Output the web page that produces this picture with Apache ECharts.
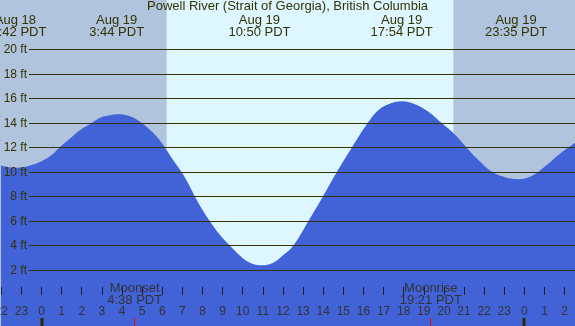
<!DOCTYPE html>
<html>
<head>
<meta charset="utf-8">
<script src="https://cdn.jsdelivr.net/npm/echarts@6/dist/echarts.min.js"></script>
<style>
  html, body { margin: 0; padding: 0; }
  #chart { width: 575px; height: 326px; }
</style>
</head>
<body>
<div id="chart"></div>
<script>
// hours counted from Aug 19 00:00 PDT, heights in ft
const tideHours = [-2.063, -1.317, -0.406, 0.422, 0.887, 1.417, 1.913, 2.494, 2.908, 3.405, 3.82, 4.234, 4.73, 5.39, 5.805, 6.138, 6.55, 6.97, 7.30, 7.63, 7.96, 8.37, 8.87, 9.37, 9.87, 10.36, 10.94, 11.52, 12.02, 12.51, 13.26, 13.98, 14.67, 15.42, 16.21, 16.74, 17.24, 17.90, 18.56, 19.23, 19.89, 20.57, 21.13, 21.71, 22.38, 23.04, 23.70, 24.36, 25.02, 25.69, 26.52, 26.7]
const tideFeet = [10.57, 10.36, 10.63, 11.31, 12.0, 12.74, 13.42, 14.0, 14.43, 14.64, 14.72, 14.64, 14.29, 13.45, 12.74, 12.0, 10.98, 10.0, 9.05, 8.0, 7.05, 6.0, 4.88, 4.0, 3.19, 2.62, 2.41, 2.62, 3.25, 4.0, 6.0, 8.0, 10.0, 12.0, 14.0, 15.05, 15.54, 15.78, 15.54, 14.92, 14.0, 13.03, 12.0, 11.0, 10.05, 9.59, 9.43, 9.70, 10.46, 11.40, 12.40, 12.6]

// high / low tide labels along the top
const eventHours = [-1.3, 3.733, 10.833, 17.9, 23.583]
const eventDays = ['Aug 18', 'Aug 19', 'Aug 19', 'Aug 19', 'Aug 19']
const eventTimes = ['22:42 PDT', '3:44 PDT', '10:50 PDT', '17:54 PDT', '23:35 PDT']

// daylight (sunrise, sunset)
const dayBand = [6.22, 20.47]

// moon events
const moonHours = [4.633, 19.35]
const moonNames = ['Moonset', 'Moonrise']
const moonTimes = ['4:38 PDT', '19:21 PDT']

const midnightHours = [0, 24]
const ftLevels = [2, 4, 6, 8, 10, 12, 14, 16, 18, 20]

const xMin = -2
const xMax = 26.515
const yMin = -2.53
const yMax = 24.03

const textColor = '#333300'
const fontFamily = '"Liberation Sans", Arial, sans-serif'

const chart = echarts.init(document.getElementById('chart'))

const option = {
  backgroundColor: '#b0c4de',
  animation: false,
  title: {
    text: 'Powell River (Strait of Georgia), British Columbia',
    left: 'center',
    top: 0,
    padding: 0,
    textStyle: { fontSize: 13, fontWeight: 'normal', color: textColor, fontFamily: fontFamily },
  },
  grid: { left: 1.26, right: 0, top: 0, bottom: 0, containLabel: false, outerBoundsMode: 'none' },
  xAxis: {
    type: 'value',
    min: xMin,
    max: xMax,
    interval: 1,
    z: 10,
    axisLine: { show: false },
    splitLine: { show: false },
    axisTick: { show: true, inside: true, length: 8, lineStyle: { color: '#222', width: 1 } },
    axisLabel: {
      inside: true,
      margin: 14,
      verticalAlign: 'middle',
      color: '#333',
      fontSize: 12,
      fontFamily: fontFamily,
      showMinLabel: true,
      showMaxLabel: false,
      hideOverlap: false,
      formatter: (v) => String(((v % 24) + 24) % 24),
    },
  },
  yAxis: {
    type: 'value',
    min: yMin,
    max: yMax,
    show: false,
  },
  series: [
    // daylight band
    {
      type: 'custom',
      z: 1,
      data: [dayBand],
      renderItem: (params, api) => {
        const p0 = api.coord([api.value(0), yMax])
        const p1 = api.coord([api.value(1), yMin])
        return {
          type: 'rect',
          shape: { x: p0[0], y: p0[1], width: p1[0] - p0[0], height: p1[1] - p0[1] },
          style: { fill: '#ddf6ff' },
        }
      },
    },
    // tide
    {
      type: 'line',
      z: 2,
      clip: false,
      smooth: 0.4,
      showSymbol: false,
      lineStyle: { width: 0 },
      areaStyle: { color: '#4262d8', opacity: 1, origin: 'start' },
      data: tideHours.map((h, i) => [h, tideFeet[i]]),
    },
    // horizontal ft lines with labels
    {
      type: 'custom',
      z: 3,
      data: ftLevels.map((v) => [xMin, v]),
      renderItem: (params, api) => {
        const y = Math.round(api.coord([xMin, api.value(1)])[1] - 0.5) + 0.5
        return {
          type: 'group',
          children: [
            {
              type: 'line',
              shape: { x1: 29, y1: y, x2: api.getWidth(), y2: y },
              style: { stroke: textColor, lineWidth: 1 },
            },
            {
              type: 'text',
              style: {
                text: api.value(1) + ' ft',
                x: 27, y: y,
                align: 'right', verticalAlign: 'middle',
                fill: textColor, font: '12px ' + fontFamily,
              },
            },
          ],
        }
      },
    },
    // high/low labels
    {
      type: 'custom',
      z: 4,
      data: eventHours.map((h, i) => [h, i]),
      renderItem: (params, api) => {
        const i = api.value(1)
        const x = api.coord([api.value(0), 0])[0]
        return {
          type: 'group',
          children: [
            { type: 'text', style: { text: eventDays[i], x: x, y: 20.5, align: 'center', verticalAlign: 'middle', fill: textColor, font: '13px ' + fontFamily } },
            { type: 'text', style: { text: eventTimes[i], x: x, y: 32, align: 'center', verticalAlign: 'middle', fill: textColor, font: '13px ' + fontFamily } },
          ],
        }
      },
    },
    // moon labels and red ticks
    {
      type: 'custom',
      z: 4,
      data: moonHours.map((h, i) => [h, i]),
      renderItem: (params, api) => {
        const i = api.value(1)
        const x = api.coord([api.value(0), 0])[0]
        const xt = Math.round(x - 0.5) + 0.5
        return {
          type: 'group',
          children: [
            { type: 'text', style: { text: moonNames[i], x: x, y: 288, align: 'center', verticalAlign: 'middle', fill: '#333', font: '13px ' + fontFamily } },
            { type: 'text', style: { text: moonTimes[i], x: x, y: 300, align: 'center', verticalAlign: 'middle', fill: '#333', font: '13px ' + fontFamily } },
            { type: 'line', shape: { x1: xt, y1: 318, x2: xt, y2: 326 }, style: { stroke: '#ff0000', lineWidth: 1 } },
          ],
        }
      },
    },
    // midnight ticks
    {
      type: 'custom',
      z: 11,
      data: midnightHours.map((h) => [h, 0]),
      renderItem: (params, api) => {
        const x = Math.round(api.coord([api.value(0), 0])[0])
        return {
          type: 'rect',
          shape: { x: x - 1.5, y: 318, width: 3, height: 8 },
          style: { fill: '#2b2b00' },
        }
      },
    },
  ],
}

chart.setOption(option)
</script>
</body>
</html>
